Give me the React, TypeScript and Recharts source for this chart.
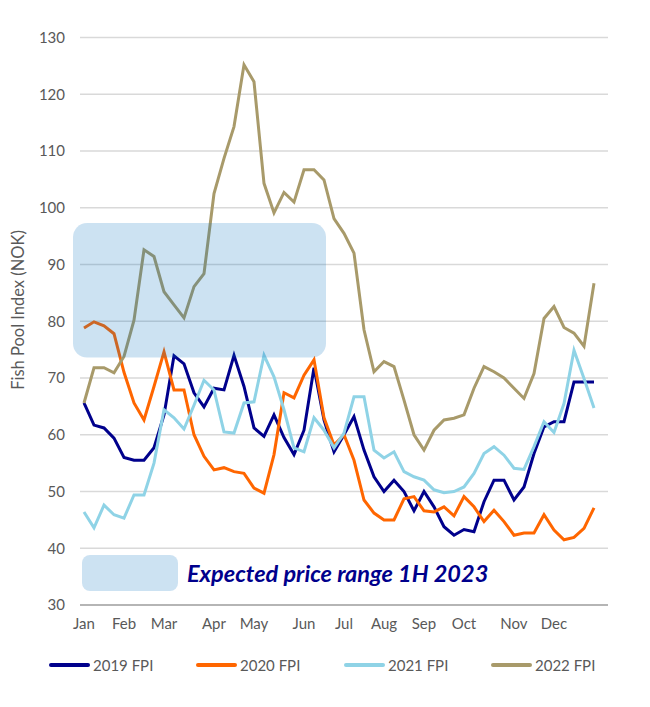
import { CartesianGrid, Line, LineChart, ReferenceArea, XAxis, YAxis } from "recharts";

// weekly Fish Pool Index, NOK/kg
const FPI_2019 = [
  65.6, 61.7, 61.2, 59.4, 56, 55.5, 55.5, 57.7, 63.5, 73.9, 72.5, 67.4, 64.9,
  68.2, 67.9, 74, 68.5, 61.2, 59.7, 63.5, 59.5, 56.5, 60.8, 71.8, 62.6, 57,
  60, 63.2, 57.3, 52.6, 50, 52, 50, 46.6, 50, 47.3, 43.8, 42.3, 43.3, 42.9,
  48.2, 52, 52, 48.5, 50.8, 56.7, 61.4, 62.3, 62.3, 69.3, 69.3, 69.3,
];
const FPI_2020 = [
  78.8, 79.9, 79.2, 77.8, 71, 65.6, 62.6, 68.5, 74.6, 67.9, 67.9, 60, 56.2,
  53.8, 54.2, 53.5, 53.2, 50.6, 49.7, 56.5, 67.4, 66.5, 70.5, 73.2, 63, 58.2,
  60, 55.5, 48.5, 46.2, 45, 45, 48.7, 49.1, 46.6, 46.4, 47.3, 45.7, 49.1, 47.3,
  44.7, 46.7, 44.7, 42.3, 42.7, 42.7, 45.9, 43.2, 41.5, 41.9, 43.5, 47.1,
];
const FPI_2021 = [
  46.4, 43.6, 47.6, 45.9, 45.3, 49.4, 49.4, 55, 64.4, 63, 61, 65.2, 69.6,
  67.9, 60.5, 60.3, 65.6, 65.8, 74, 70.2, 64.4, 57.7, 57, 63, 60.8, 57.7,
  60.3, 66.7, 66.7, 57.3, 55.9, 57, 53.5, 52.6, 52, 50.3, 49.8, 50, 50.8, 53.2,
  56.7, 57.9, 56.4, 54.1, 53.9, 57.9, 62.3, 60.4, 65.5, 74.9, 69.9, 64.7,
];
const FPI_2022 = [
  65.6, 71.8, 71.8, 70.9, 73.8, 80.2, 92.6, 91.4, 85.2, 82.9, 80.6, 86.1, 88.4,
  102.5, 108.7, 114.3, 125.2, 122.2, 104.3, 99.1, 102.7, 101, 106.7, 106.7,
  104.9, 98.1, 95.5, 92, 78.5, 71.1, 72.9, 72, 66.1, 60, 57.3, 60.8, 62.6, 62.9,
  63.5, 68.2, 72, 71.1, 70, 68.2, 66.4, 70.8, 80.5, 82.6, 78.9, 77.9, 75.6, 86.7,
];

const MONTHS = ["Jan", "Feb", "Mar", "Apr", "May", "Jun", "Jul", "Aug", "Sep", "Oct", "Nov", "Dec"];
const MONTH_WEEKS = [0, 4, 8, 13, 17, 22, 26, 30, 34, 38, 43, 47];
const Y_TICKS = [30, 40, 50, 60, 70, 80, 90, 100, 110, 120, 130];

// expected price range for 1H 2023
const RANGE_LOW = 73.6;
const RANGE_HIGH = 97.3;

const SERIES = [
  { key: "fpi2019", name: "2019 FPI", color: "#00008c" },
  { key: "fpi2020", name: "2020 FPI", color: "#ff6600" },
  { key: "fpi2021", name: "2021 FPI", color: "#8fd3e6" },
  { key: "fpi2022", name: "2022 FPI", color: "#a89a6a" },
];

const data = FPI_2019.map((_, i) => ({
  week: i,
  fpi2019: FPI_2019[i],
  fpi2020: FPI_2020[i],
  fpi2021: FPI_2021[i],
  fpi2022: FPI_2022[i],
}));

const FONT = "Lato, 'Noto Sans', sans-serif";
const GREY = "#595959";
const LEGEND_X = [49, 196, 344, 491];

const RoundedRect = (p: any) => (
  <rect x={p.x} y={p.y} width={p.width} height={p.height} rx={14} ry={14} fill="#0070c0" fillOpacity={0.2} />
);

export default function App() {
  return (
    <div style={{ position: "absolute", left: 0, top: 0, width: 650, height: 707, background: "#fff", fontFamily: FONT }}>
      <LineChart width={650} height={707} data={data} margin={{ top: 37.5, right: 42, bottom: 72, left: 40 }}>
        <CartesianGrid horizontal vertical={false} stroke="#d9d9d9" strokeWidth={1.5} />
        <XAxis
          dataKey="week"
          type="number"
          domain={[-0.4, 52.4]}
          ticks={MONTH_WEEKS}
          tickFormatter={(v) => MONTHS[MONTH_WEEKS.indexOf(v)]}
          interval={0}
          height={30}
          tickSize={0}
          tickMargin={13}
          axisLine={{ stroke: "#a6a6a6", strokeWidth: 1.5 }}
          tick={{ fill: GREY, fontSize: 15, fontFamily: FONT }}
          allowDataOverflow
        />
        <YAxis
          domain={[30, 130]}
          ticks={Y_TICKS}
          width={40}
          tickSize={0}
          tickMargin={15}
          axisLine={false}
          tick={{ fill: GREY, fontSize: 15, fontFamily: FONT }}
        />
        {SERIES.map((s) => (
          <Line
            key={s.key}
            dataKey={s.key}
            name={s.name}
            stroke={s.color}
            strokeWidth={3}
            dot={false}
            type="linear"
            isAnimationActive={false}
          />
        ))}
        <ReferenceArea
          x1={-1.1}
          x2={24.2}
          y1={RANGE_LOW}
          y2={RANGE_HIGH}
          ifOverflow="visible"
          shape={RoundedRect}
          zIndex={600}
        />
      </LineChart>

      <div
        style={{
          position: "absolute",
          left: 18,
          top: 310,
          transform: "translate(-50%, -50%) rotate(-90deg)",
          whiteSpace: "nowrap",
          color: GREY,
          fontSize: 16.5,
        }}
      >
        Fish Pool Index (NOK)
      </div>

      <div
        style={{
          position: "absolute",
          left: 82,
          top: 555,
          width: 96,
          height: 36,
          borderRadius: 8,
          background: "rgba(0,112,192,0.2)",
        }}
      />
      <div
        style={{
          position: "absolute",
          left: 187,
          top: 559,
          color: "#00008c",
          fontSize: 23.5,
          fontWeight: 700,
          fontStyle: "italic",
          whiteSpace: "nowrap",
        }}
      >
        Expected price range 1H 2023
      </div>

      {SERIES.map((s, i) => (
        <div key={s.key} style={{ position: "absolute", left: LEGEND_X[i], top: 656, display: "flex", alignItems: "center" }}>
          <div style={{ width: 41, height: 4, borderRadius: 2, background: s.color }} />
          <span style={{ marginLeft: 3, color: GREY, fontSize: 15 }}>{s.name}</span>
        </div>
      ))}
    </div>
  );
}
